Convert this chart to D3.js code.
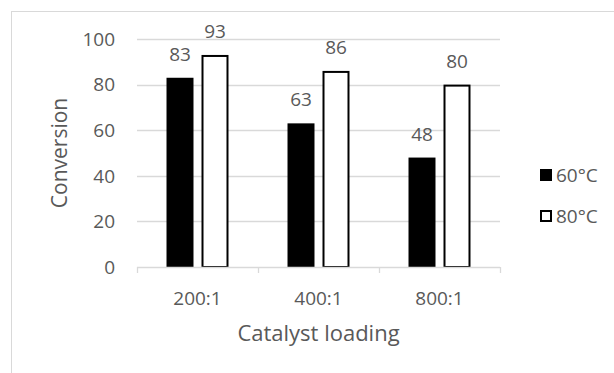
<!DOCTYPE html>
<html><head><meta charset="utf-8">
<script src="https://cdn.jsdelivr.net/npm/d3@7"></script>
<style>
html,body{margin:0;padding:0;background:#fff;}
svg{display:block;font-family:"Open Sans",sans-serif;}
</style></head>
<body><svg id="c" width="614" height="373"></svg>
<script>
const categories = ["200:1", "400:1", "800:1"];
const seriesNames = ["60°C", "80°C"];
const values60 = [83, 63, 48];
const values80 = [93, 86, 80];
const yTicks = [0, 20, 40, 60, 80, 100];

const svg = d3.select("#c");
const textColor = "#595959", gridColor = "#d9d9d9";

// outer chart border
svg.append("rect").attr("x", 11.5).attr("y", 11.5).attr("width", 700).attr("height", 500)
  .attr("fill", "none").attr("stroke", gridColor).attr("stroke-width", 1);

const plot = {left: 137, right: 500, top: 39, bottom: 267};
const x0 = d3.scaleBand().domain(categories).range([plot.left, plot.right]).padding(0);
const x1 = d3.scaleBand().domain(seriesNames).range([0, x0.bandwidth()]).paddingInner(0.229).paddingOuter(0.843);
const y = d3.scaleLinear().domain([0, 100]).range([plot.bottom, plot.top]);

// gridlines
svg.append("g").selectAll("line").data(yTicks.filter(d => d > 0)).join("line")
  .attr("x1", plot.left).attr("x2", plot.right)
  .attr("y1", d => Math.round(y(d)) + 0.5).attr("y2", d => Math.round(y(d)) + 0.5)
  .attr("stroke", gridColor).attr("stroke-width", 1.3);

// y tick labels
svg.append("g").selectAll("text").data(yTicks).join("text")
  .attr("x", plot.left - 22).attr("y", d => y(d)).attr("dy", "0.36em")
  .attr("text-anchor", "end").attr("fill", textColor).attr("font-size", 19)
  .text(d => d);

const data = categories.map((c, i) => ({cat: c, vals: [
  {s: seriesNames[0], v: values60[i]}, {s: seriesNames[1], v: values80[i]}]}));

const groups = svg.append("g").selectAll("g").data(data).join("g")
  .attr("transform", d => `translate(${x0(d.cat)},0)`);

// 60°C bars (solid)
groups.append("rect")
  .attr("x", d => x1(seriesNames[0])).attr("width", x1.bandwidth())
  .attr("y", d => y(d.vals[0].v)).attr("height", d => y(0) - y(d.vals[0].v))
  .attr("fill", "#000");

// 80°C bars (outline)
groups.append("rect")
  .attr("x", d => x1(seriesNames[1]) + 1).attr("width", x1.bandwidth() - 2)
  .attr("y", d => y(d.vals[1].v) + 1).attr("height", d => y(0) - y(d.vals[1].v) - 1)
  .attr("fill", "#fff").attr("stroke", "#000").attr("stroke-width", 2);

// value labels
groups.selectAll("text.val").data(d => d.vals).join("text").attr("class", "val")
  .attr("x", d => x1(d.s) + x1.bandwidth() / 2)
  .attr("y", d => y(d.v) - 17)
  .attr("text-anchor", "middle").attr("fill", textColor).attr("font-size", 19)
  .text(d => d.v);

// x axis line
svg.append("line").attr("x1", plot.left).attr("x2", plot.right)
  .attr("y1", plot.bottom + 0.5).attr("y2", plot.bottom + 0.5)
  .attr("stroke", gridColor).attr("stroke-width", 1.5);

// x axis ticks at category boundaries
const bounds = categories.map(c => x0(c)).concat([x0(categories[categories.length - 1]) + x0.bandwidth()]);
svg.append("g").selectAll("line").data(bounds).join("line")
  .attr("x1", d => Math.round(d) + 0.5).attr("x2", d => Math.round(d) + 0.5)
  .attr("y1", plot.bottom).attr("y2", plot.bottom + 6)
  .attr("stroke", gridColor).attr("stroke-width", 1.3);

// x tick labels
svg.append("g").selectAll("text").data(categories).join("text")
  .attr("x", d => x0(d) + x0.bandwidth() / 2).attr("y", 305)
  .attr("text-anchor", "middle").attr("fill", textColor).attr("font-size", 19)
  .text(d => d);

// axis titles
svg.append("text").attr("x", (plot.left + plot.right) / 2).attr("y", 341)
  .attr("text-anchor", "middle").attr("fill", textColor).attr("font-size", 22)
  .text("Catalyst loading");
svg.append("text").attr("transform", "translate(67,153) rotate(-90)")
  .attr("text-anchor", "middle").attr("fill", textColor).attr("font-size", 21)
  .text("Conversion");

// legend
const legend = svg.append("g").attr("transform", "translate(540,169)");
const li = legend.selectAll("g").data(seriesNames).join("g")
  .attr("transform", (d, i) => `translate(0,${i * 41})`);
li.append("rect").attr("x", (d, i) => i ? 1 : 0).attr("y", (d, i) => i ? 1 : 0)
  .attr("width", (d, i) => i ? 10 : 12).attr("height", (d, i) => i ? 10 : 12)
  .attr("fill", (d, i) => i ? "#fff" : "#000")
  .attr("stroke", (d, i) => i ? "#000" : "none").attr("stroke-width", 2);
li.append("text").attr("x", 16).attr("y", 6).attr("dy", "0.36em")
  .attr("fill", textColor).attr("font-size", 19).text(d => d);
</script></body></html>
